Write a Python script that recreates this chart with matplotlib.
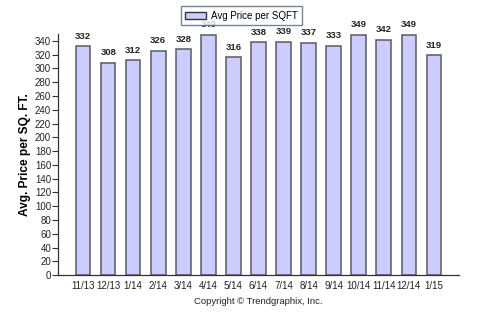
import matplotlib
matplotlib.use("Agg")
import matplotlib.pyplot as plt
from matplotlib.patches import Patch

# Data
months = ["11/13", "12/13", "1/14", "2/14", "3/14", "4/14", "5/14", "6/14",
          "7/14", "8/14", "9/14", "10/14", "11/14", "12/14", "1/15"]
price_per_sqft = [332, 308, 312, 326, 328, 349, 316, 338,
                  339, 337, 333, 349, 342, 349, 319]
y_ticks = list(range(0, 341, 20))

plt.rcParams['font.family'] = ['Liberation Sans', 'DejaVu Sans']

fig = plt.figure(figsize=(4.8, 3.24), dpi=100)
ax = fig.add_axes([0.121, 0.151, 0.835, 0.744])

x = range(len(months))
bars = ax.bar(x, price_per_sqft, width=0.58, color="#ccccff",
              edgecolor="#5a5a66", linewidth=1.1, zorder=2)

# value labels above each bar
for xi, v in zip(x, price_per_sqft):
    ax.annotate(str(v), (xi, v), xytext=(0, 4), textcoords="offset points",
                ha="center", va="bottom", fontsize=6.8, fontweight="bold",
                color="#222222")

ax.set_xlim(-1, len(months))
ax.set_ylim(0, 350)
ax.set_yticks(y_ticks)
ax.set_xticks(list(x))
ax.set_xticklabels(months)
ax.tick_params(axis="y", labelsize=7, length=4, width=0.8, color="#333333",
               labelcolor="#222222", pad=1)
ax.tick_params(axis="x", labelsize=7, length=0, labelcolor="#222222", pad=4)

for side in ["top", "right"]:
    ax.spines[side].set_visible(False)
for side in ["left", "bottom"]:
    ax.spines[side].set_color("#333333")
    ax.spines[side].set_linewidth(0.9)

ax.set_ylabel("Avg. Price per SQ. FT.", fontsize=8.6, fontweight="bold",
              labelpad=3)

leg_handle = Patch(facecolor="#ccccff", edgecolor="#333333", linewidth=1.0)
leg = fig.legend([leg_handle], ["Avg Price per SQFT"], loc="upper left",
                 bbox_to_anchor=(0.366, 0.995), fontsize=7, frameon=True,
                 fancybox=False, edgecolor="#556677", handlelength=2.2,
                 handleheight=0.8, borderpad=0.45, handletextpad=0.5)
leg.get_frame().set_linewidth(1.0)

fig.text(0.537, 0.07, "Copyright \u00a9 Trendgraphix, Inc.", ha="center",
         va="center", fontsize=6.8, color="#222222")

fig.savefig("out.png", dpi=100)
